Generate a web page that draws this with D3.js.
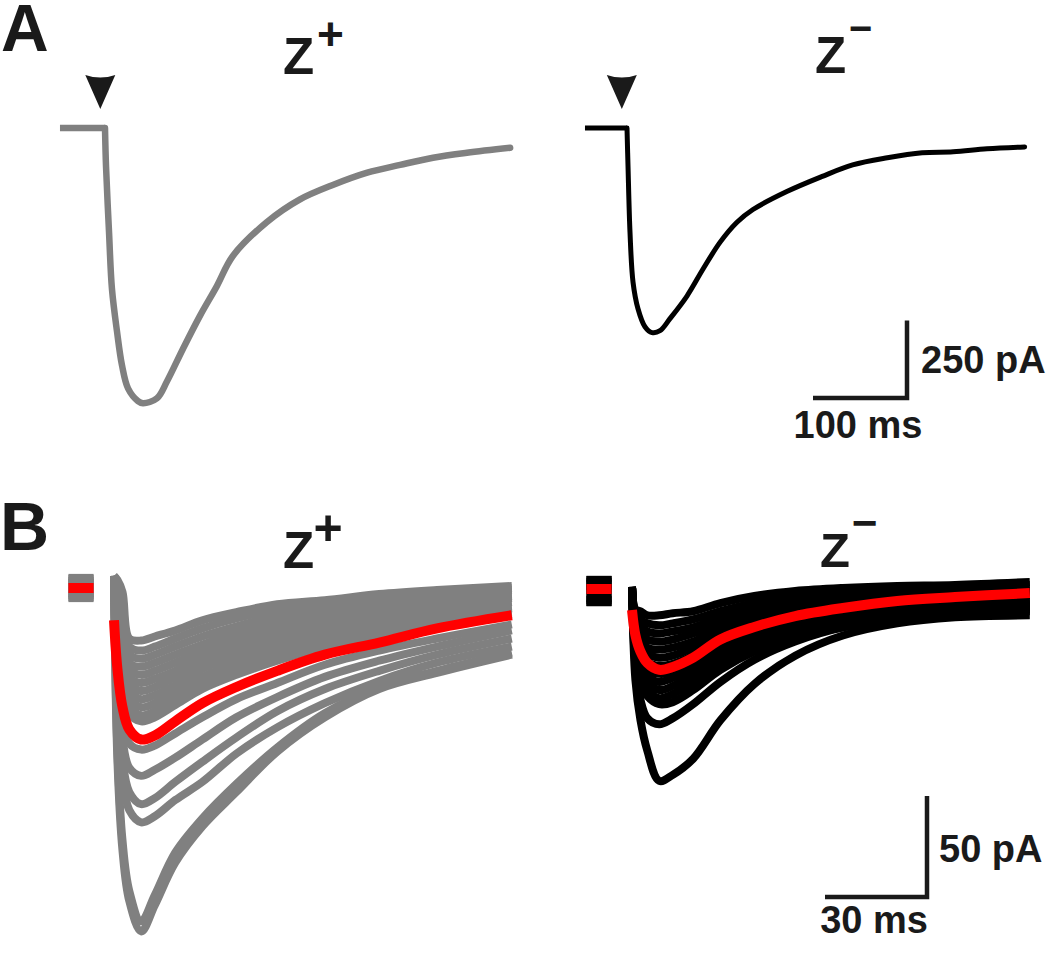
<!DOCTYPE html>
<html>
<head>
<meta charset="utf-8">
<script src="https://cdn.jsdelivr.net/npm/d3@7"></script>
<style>
  html, body { margin: 0; padding: 0; background: #fff; }
  svg { display: block; }
  text { font-family: "Liberation Sans", Arial, sans-serif; font-weight: bold; fill: #1a1a1a; }
</style>
</head>
<body>
<svg id="chart" width="1050" height="966"></svg>
<script>
// ---------------- DATA ----------------
// Panel A: averaged EPSC, time (ms from stimulus) and current (pA)
const tAzPlus  = [-47.9, 0, 1.1, 4.3, 7.4, 12.8, 18.1, 24.5, 35.1, 40.4, 55.3, 66, 83, 101, 119, 136, 172, 207, 243, 279, 314, 349, 385, 431];
const iAzPlus  = [0, 0, -125, -337, -519, -657, -766, -840, -881, -888, -872, -817, -712, -606, -510, -413, -304, -231, -183, -144, -119, -96, -80, -64];
const tAzMinus = [-44.7, 0, 1.1, 3.2, 6.4, 11.7, 19.1, 26.6, 35.1, 45.7, 63.8, 80.9, 98.9, 117, 134, 170, 207, 240, 277, 314, 347, 383, 423];
const iAzMinus = [0, 0, -125, -337, -497, -583, -641, -660, -654, -615, -542, -455, -369, -304, -263, -205, -157, -119, -96, -80, -77, -67, -61];
const stimulusTimes = [-5, -5.5];

// Panel B: individual sweeps (sampled at tB, ms) and their mean (red)
const tB = [0, 1, 2.5, 4.5, 8, 12, 18, 26, 36, 48, 62, 78, 95, 117];
const baselineWindow = [-13.4, -6.0];

const zPlusSweeps = [
  [6, 4, -2, -25, -26, -24, -21, -16, -12, -8, -6, -3, -1, 1],
  [6, 3, -6, -29, -31, -29, -25, -20, -15, -11, -8, -5, -3, 0],
  [6, 2, -10, -33, -35, -33, -29, -24, -19, -14, -10, -7, -4, -1],
  [6, 0, -15, -37, -39, -37, -33, -28, -22, -17, -13, -9, -6, -3],
  [6, -2, -20, -40, -43, -41, -37, -31, -25, -19, -15, -11, -8, -4],
  [6, -4, -24, -44, -47, -45, -41, -34, -28, -22, -17, -13, -9, -5],
  [6, -6, -28, -47, -51, -49, -44, -37, -31, -25, -19, -15, -11, -7],
  [6, -8, -32, -51, -55, -53, -48, -40, -34, -28, -22, -17, -13, -9],
  [6, -10, -35, -54, -59, -57, -51, -44, -37, -30, -24, -19, -15, -10],
  [6, -12, -38, -58, -63, -61, -55, -47, -40, -33, -27, -21, -16, -12],
  [6, -14, -41, -62, -66, -64, -58, -50, -43, -36, -29, -23, -18, -13],
  [6, -45, -65, -77, -80, -78, -72, -64, -55, -47, -38, -31, -25, -18],
  [6, -50, -75, -89, -93, -90, -84, -75, -64, -54, -44, -36, -29, -21],
  [6, -55, -85, -101, -107, -104, -96, -86, -74, -61, -50, -41, -33, -25],
  [6, -58, -92, -110, -116, -113, -105, -96, -82, -69, -57, -46, -37, -29],
  [6, -80, -125, -150, -165, -152, -131, -114, -97, -79, -62, -49, -41, -32],
  [6, -85, -130, -155, -170, -157, -136, -118, -101, -81, -64, -50, -42, -33]
];
const zPlusMean = [-16, -40, -59, -70, -75, -73, -66, -57, -49, -41, -33, -27, -20, -13.5];
const zPlusBaselines = [5, -5, 3, -3, 1, -1, 4, -4, 2, -2, 0, 5.5, -5.5, 3, -3, 1, -1];

const zMinusSweeps = [
  [1, -10, -11, -13, -13, -12, -11, -7, -3.5, -1, 0.5, 1.5, 2, 3.5],
  [1, -12, -15, -17, -18, -17, -15, -11, -7, -4, -2, -0.5, 1, 2],
  [1, -14, -18, -21, -22, -21, -19, -14, -10, -6, -4, -2, -1, 0],
  [1, -16, -21, -25, -26, -25, -22, -17, -12, -8, -6, -4, -3, -1],
  [1, -18, -24, -29, -30, -29, -26, -20, -15, -10, -7, -5, -4, -2],
  [1, -20, -27, -32, -34, -33, -29, -22, -17, -12, -9, -7, -5, -3],
  [1, -22, -30, -36, -38, -37, -33, -25, -19, -14, -11, -8, -6, -5],
  [1, -24, -33, -40, -42, -41, -36, -28, -21, -16, -12, -9, -8, -6],
  [1, -26, -36, -43, -46, -44, -39, -31, -24, -18, -14, -11, -9, -7],
  [1, -28, -39, -46, -50, -48, -42, -34, -26, -20, -15, -12, -10, -8],
  [1, -30, -42, -50, -54, -52, -46, -37, -29, -22, -17, -13, -11, -9],
  [1, -33, -45, -53, -57, -56, -50, -40, -31, -24, -19, -15, -12, -10],
  [1, -38, -55, -64, -67, -64, -57, -46, -35, -26, -19, -15, -12, -11],
  [1, -45, -65, -80, -95, -92, -84, -65, -47, -33, -23, -17, -14, -13]
];
const zMinusMean = [-10.4, -22.8, -31, -36.6, -40, -38.6, -34, -25, -18.8, -13.4, -9.4, -5.9, -4, -2];
const zMinusBaselines = [5, -7, 3, -5, 1, -3, 4, -6, 2, -1, 0, -4, 5, -7];

const scaleBarA = [100, 250];   // ms, pA
const scaleBarB = [30, 50];     // ms, pA
const panelLetters = ["A", "B"];
const groupNames = ["Z", "Z"];
const groupSigns = ["+", "\u2212"];

// ---------------- DRAWING ----------------
const svg = d3.select("#chart");
const GREY = "#808080", BLACK = "#000000", RED = "#ff0000", INK = "#1a1a1a";

// scales
const xAzp = d3.scaleLinear().domain([0, 100]).range([105, 199]);
const xAzm = d3.scaleLinear().domain([0, 100]).range([627, 721]);
const yA   = d3.scaleLinear().domain([0, -250]).range([128, 205.5]);
const xBzp = d3.scaleLinear().domain([0, 30]).range([114, 216]);
const xBzm = d3.scaleLinear().domain([0, 30]).range([632, 734]);
const yBzp = d3.scaleLinear().domain([0, -50]).range([588, 689]);
const yBzm = d3.scaleLinear().domain([0, -50]).range([589, 690]);

function lineGen(xs, ys, curve) {
  return d3.line().x(d => xs(d[0])).y(d => ys(d[1])).curve(curve || d3.curveCatmullRom.alpha(0.5));
}

// ----- Panel A traces -----
function drawA(ts, is, xs, color, width) {
  const pts = d3.zip(ts, is);
  const onset = ts.indexOf(0);
  const g = svg.append("g").attr("fill", "none").attr("stroke", color)
    .attr("stroke-width", width).attr("stroke-linejoin", "round");
  // pre-stimulus baseline (straight)
  g.append("path").attr("d", lineGen(xs, yA, d3.curveLinear)(pts.slice(0, onset + 1)))
    .attr("stroke-linecap", "butt");
  // response (smooth)
  g.append("path").attr("d", lineGen(xs, yA)(pts.slice(onset)))
    .attr("stroke-linecap", "round");
}
drawA(tAzPlus, iAzPlus, xAzp, GREY, 6.5);
drawA(tAzMinus, iAzMinus, xAzm, BLACK, 5);

// stimulus arrowheads
[[xAzp, stimulusTimes[0]], [xAzm, stimulusTimes[1]]].forEach(([xs, t]) => {
  const tipX = xs(t), tipY = 109;
  svg.append("path")
    .attr("d", `M${tipX - 15},${tipY - 34} Q${tipX},${tipY - 29} ${tipX + 15},${tipY - 34} L${tipX},${tipY} Z`)
    .attr("fill", INK);
});

// ----- Panel B traces -----
function drawB(sweeps, mean, baselines, xs, ys, color) {
  const g = svg.append("g");
  const lg = lineGen(xs, ys);
  sweeps.forEach(s => {
    g.append("path").attr("d", lg(d3.zip(tB, s)))
      .attr("fill", "none").attr("stroke", color).attr("stroke-width", 8)
      .attr("stroke-linejoin", "round");
  });
  baselines.forEach(b => {
    g.append("line")
      .attr("x1", xs(baselineWindow[0])).attr("x2", xs(baselineWindow[1]))
      .attr("y1", ys(b)).attr("y2", ys(b))
      .attr("stroke", color).attr("stroke-width", 6);
  });
  g.append("path").attr("d", lg(d3.zip(tB, mean)))
    .attr("fill", "none").attr("stroke", RED).attr("stroke-width", 10)
    .attr("stroke-linejoin", "round").attr("stroke-linecap", "butt");
  g.append("line")
    .attr("x1", xs(baselineWindow[0])).attr("x2", xs(baselineWindow[1]))
    .attr("y1", ys(0)).attr("y2", ys(0))
    .attr("stroke", RED).attr("stroke-width", 10);
}
drawB(zPlusSweeps, zPlusMean, zPlusBaselines, xBzp, yBzp, GREY);
drawB(zMinusSweeps, zMinusMean, zMinusBaselines, xBzm, yBzm, BLACK);

// ----- scale bars -----
function scaleBar(cx, cy, xs, ys, vals, msY, pAX, pAY) {
  const hl = xs(vals[0]) - xs(0);
  const vl = ys(-vals[1]) - ys(0);
  svg.append("path")
    .attr("d", `M${cx - hl},${cy} L${cx},${cy} L${cx},${cy - vl}`)
    .attr("fill", "none").attr("stroke", INK).attr("stroke-width", 4.5)
    .attr("stroke-linejoin", "miter");
  svg.append("text").attr("x", pAX).attr("y", pAY).attr("font-size", 38).text(vals[1] + " pA");
  svg.append("text").attr("x", cx - hl / 2 - 2).attr("y", msY).attr("text-anchor", "middle")
    .attr("font-size", 38).text(vals[0] + " ms");
}
scaleBar(907, 398, xAzp, yA, scaleBarA, 438, 921, 373);
scaleBar(927, 897, xBzp, yBzp, scaleBarB, 933, 939, 862);

// ----- labels -----
svg.append("text").attr("x", 1).attr("y", 51).attr("font-size", 66).text(panelLetters[0]);
svg.append("text").attr("x", 0).attr("y", 550).attr("font-size", 68).text(panelLetters[1]);

function zLabel(zx, zy, signX, signY, sign, zSize, sSize) {
  svg.append("text").attr("x", zx).attr("y", zy).attr("font-size", zSize).text(groupNames[0]);
  svg.append("text").attr("x", signX).attr("y", signY).attr("text-anchor", "middle")
    .attr("font-size", sSize).text(sign);
}
zLabel(283, 74, 330.5, 50, groupSigns[0], 51, 46);
zLabel(815, 73, 860.5, 42, groupSigns[1], 51, 40);
zLabel(283, 568, 328, 545, groupSigns[0], 51, 50);
zLabel(820, 567, 864.5, 538, groupSigns[1], 49, 44);
</script>
</body>
</html>
